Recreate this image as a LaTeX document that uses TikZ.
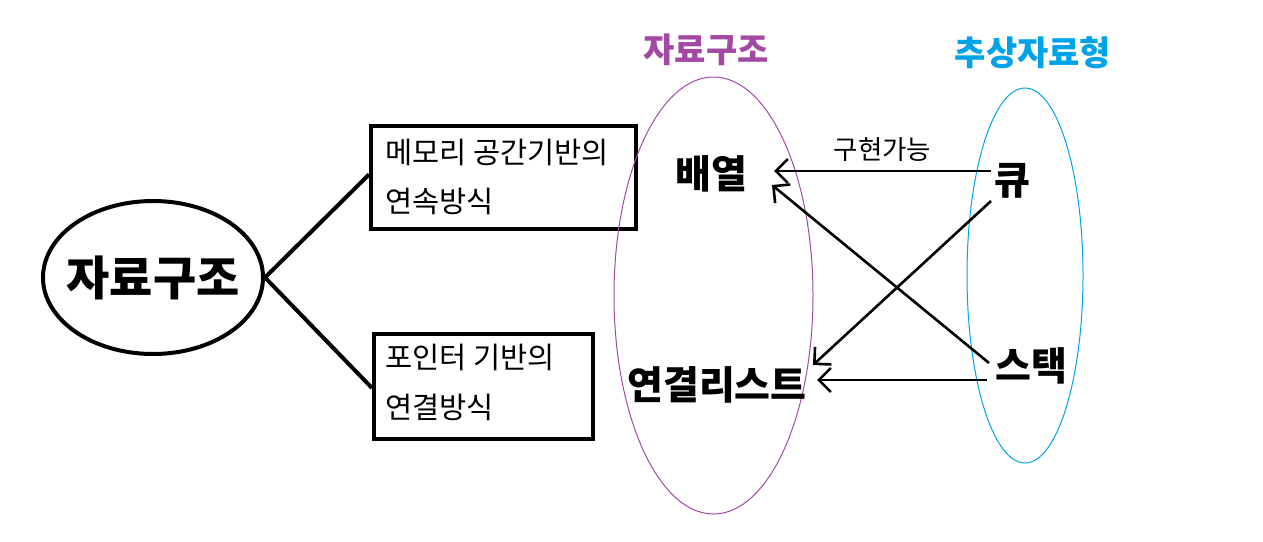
\documentclass[tikz,border=0pt]{standalone}
\usepackage{fontspec}
\setmainfont{Noto Sans CJK KR}
\usetikzlibrary{shapes.geometric,arrows.meta}
\definecolor{dspurple}{HTML}{A349A4}
\definecolor{adtblue}{HTML}{00A2E8}
\tikzset{
  thick4/.style={line width=4pt},
  rootell/.style={ellipse, draw, line width=4pt, minimum width=220pt, minimum height=153pt, inner sep=0pt},
  boxnode/.style={rectangle, draw, line width=4pt, inner sep=0pt},
  boxtext/.style={anchor=west, inner sep=0pt, font=\fontsize{29.5}{32}\selectfont},
  item/.style={inner sep=0pt, font=\fontsize{39}{44}\selectfont\bfseries},
  title/.style={inner sep=0pt, font=\fontsize{34}{38}\selectfont\bfseries},
  groupell/.style={ellipse, draw, line width=1pt, inner sep=0pt},
  impl/.style={line width=2.6pt, -{Straight Barb[length=12pt,width=24pt,line width=2.6pt]}},
}
\begin{document}
\begin{tikzpicture}[x=1pt,y=1pt]
\useasboundingbox (0,0) rectangle (1263,-541);
% root
\node[rootell] (root) at (153,-277.5) {};
\node[inner sep=0pt, font=\fontsize{47}{52}\selectfont\bfseries] (rootlbl) at (root.center) {자료구조};
% boxes
\node[boxnode, minimum width=265pt, minimum height=103pt] (box1) at (503.5,-177.5) {};
\node[boxtext] (b1l1) at (385,-152.5) {메모리 공간기반의};
\node[boxtext] (b1l2) at (385,-201.5) {연속방식};
\node[boxnode, minimum width=219pt, minimum height=105pt] (box2) at (483.5,-386.5) {};
\node[boxtext] (b2l1) at (385,-357.5) {포인터 기반의};
\node[boxtext] (b2l2) at (385,-407.5) {연결방식};
\draw[thick4] (root.east) -- ([yshift=3pt]box1.west);
\draw[thick4] (root.east) -- ([yshift=-1.5pt]box2.west);
% group ellipses
\node[groupell, draw=dspurple, minimum width=199pt, minimum height=437pt] (dsgroup) at (713.5,-295.5) {};
\node[groupell, draw=adtblue, minimum width=116pt, minimum height=375pt] (adtgroup) at (1025,-275.5) {};
\node[title, text=dspurple] (dstitle) at (706,-49.5) {자료구조};
\node[title, text=adtblue] (adttitle) at (1033,-53) {추상자료형};
% items
\node[item] (arr) at (711.5,-173.5) {배열};
\node[item] (ll) at (717,-385) {연결리스트};
\node[item] (q) at (1012.5,-180.5) {큐};
\node[item] (s) at (1031.5,-366) {스택};
% arrows
\draw[impl] ([xshift=-21.5pt,yshift=9.5pt]q.center) -- node[above=8pt, font=\fontsize{26.5}{30}\selectfont, inner sep=0pt] (lbl) {구현가능} ([xshift=62.5pt,yshift=2.5pt]arr.center);
\draw[impl] ([xshift=-42.5pt,yshift=3pt]s.center) -- ([xshift=60.5pt,yshift=-11.5pt]arr.center);
\draw[impl] ([xshift=-21.5pt,yshift=-20.5pt]q.center) -- ([xshift=96pt,yshift=20pt]ll.center);
\draw[impl] ([xshift=-44.5pt,yshift=-14pt]s.center) -- ([xshift=100pt,yshift=5pt]ll.center);
\end{tikzpicture}
\end{document}
